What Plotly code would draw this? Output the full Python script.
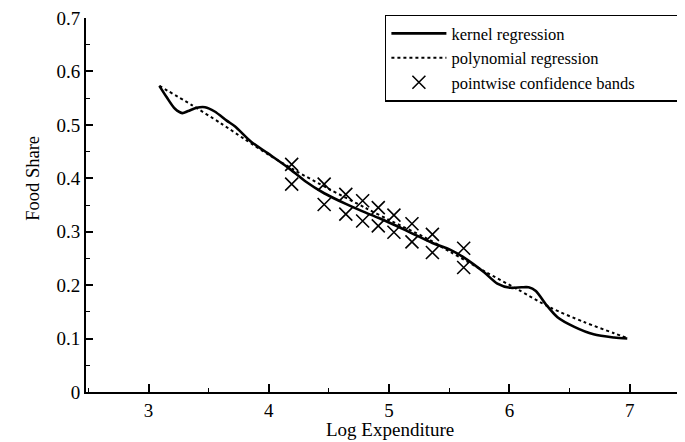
import plotly.graph_objects as go

# ---- data ----
kernel_x = [3.09, 3.15, 3.22, 3.28, 3.33, 3.40, 3.47, 3.55, 3.65, 3.72, 3.85, 3.99,
            4.16, 4.30, 4.46, 4.64, 4.78, 4.91, 5.04, 5.19, 5.36, 5.51, 5.62, 5.79,
            5.90, 6.01, 6.10, 6.16, 6.22, 6.30, 6.40, 6.54, 6.70, 6.87, 6.98]
kernel_y = [0.573, 0.552, 0.530, 0.522, 0.526, 0.532, 0.533, 0.525, 0.508, 0.497, 0.469, 0.447,
            0.420, 0.395, 0.372, 0.352, 0.338, 0.326, 0.313, 0.297, 0.279, 0.266, 0.252, 0.224,
            0.203, 0.195, 0.196, 0.196, 0.189, 0.165, 0.140, 0.122, 0.108, 0.102, 0.100]

poly_x = [3.09, 3.36, 3.60, 3.80, 4.00, 4.20, 4.50, 4.80, 5.00, 5.30, 5.51, 5.80,
          6.07, 6.34, 6.62, 6.87, 6.98]
poly_y = [0.573, 0.537, 0.503, 0.473, 0.444, 0.417, 0.380, 0.345, 0.322, 0.289, 0.262, 0.225,
          0.192, 0.158, 0.131, 0.110, 0.101]

band_x = [4.19, 4.46, 4.64, 4.78, 4.91, 5.04, 5.19, 5.36, 5.62]
band_upper = [0.426, 0.389, 0.370, 0.358, 0.345, 0.331, 0.315, 0.295, 0.269]
band_lower = [0.389, 0.351, 0.333, 0.320, 0.311, 0.299, 0.281, 0.261, 0.233]

x_tick_vals = [3, 4, 5, 6, 7]
x_tick_text = ["3", "4", "5", "6", "7"]
y_tick_vals = [0, 0.1, 0.2, 0.3, 0.4, 0.5, 0.6, 0.7]
y_tick_text = ["0", "0.1", "0.2", "0.3", "0.4", "0.5", "0.6", "0.7"]

FONT = "Liberation Serif"
PAD = "\u00a0" * 9  # extra room at the right of the legend box, as in the reference

fig = go.Figure()
fig.add_trace(go.Scatter(
    x=kernel_x, y=kernel_y, mode="lines", name="kernel regression",
    line=dict(color="black", width=2.6, shape="spline", smoothing=0.8)))
fig.add_trace(go.Scatter(
    x=poly_x, y=poly_y, mode="lines", name="polynomial regression",
    line=dict(color="black", width=2, dash="dot", shape="spline", smoothing=0.8)))
fig.add_trace(go.Scatter(
    x=band_x + band_x, y=band_upper + band_lower, mode="markers",
    name="pointwise confidence bands" + PAD,
    marker=dict(symbol="x-thin", size=13, color="black",
                line=dict(color="black", width=1.6))))

# the page adds an 8px body margin, so the figure is 8px smaller than the window
fig.update_layout(
    width=677, height=434, autosize=False,
    margin=dict(l=78, r=0, t=8, b=50),
    paper_bgcolor="white", plot_bgcolor="white",
    font=dict(family=FONT, color="black", size=16),
    showlegend=True,
    legend=dict(
        x=0.499, y=1.009, xanchor="left", yanchor="top",
        bgcolor="white", bordercolor="black", borderwidth=1.5,
        font=dict(family=FONT, size=16.5, color="black"),
        itemwidth=55, tracegroupgap=2,
    ),
    annotations=[
        dict(text="Food Share", xref="paper", yref="paper", x=-0.109, y=0.572,
             showarrow=False, textangle=-90, font=dict(family=FONT, size=18.5)),
        dict(text="Log Expenditure", xref="paper", yref="paper", x=0.508, y=-0.101,
             yanchor="middle", showarrow=False, font=dict(family=FONT, size=19)),
    ],
)

fig.update_xaxes(
    range=[2.48, 7.46], showgrid=False, zeroline=False,
    showline=True, linecolor="black", linewidth=2,
    ticks="inside", ticklen=8, tickwidth=1.5, tickcolor="black",
    tickvals=x_tick_vals, ticktext=x_tick_text, ticklabeloverflow="allow",
    tickfont=dict(family=FONT, size=19, color="black"),
    minor=dict(ticks="inside", ticklen=4, tickwidth=1, tickcolor="black", dtick=0.5, showgrid=False),
)
fig.update_yaxes(
    range=[0, 0.7], showgrid=False, zeroline=False,
    showline=True, linecolor="black", linewidth=2,
    ticks="inside", ticklen=7, tickwidth=1.5, tickcolor="black",
    tickvals=y_tick_vals, ticktext=y_tick_text, ticklabeloverflow="allow",
    tickfont=dict(family=FONT, size=19, color="black"),
    minor=dict(ticks="inside", ticklen=4, tickwidth=1, tickcolor="black", dtick=0.05, showgrid=False),
)

fig.write_html("out.html")
